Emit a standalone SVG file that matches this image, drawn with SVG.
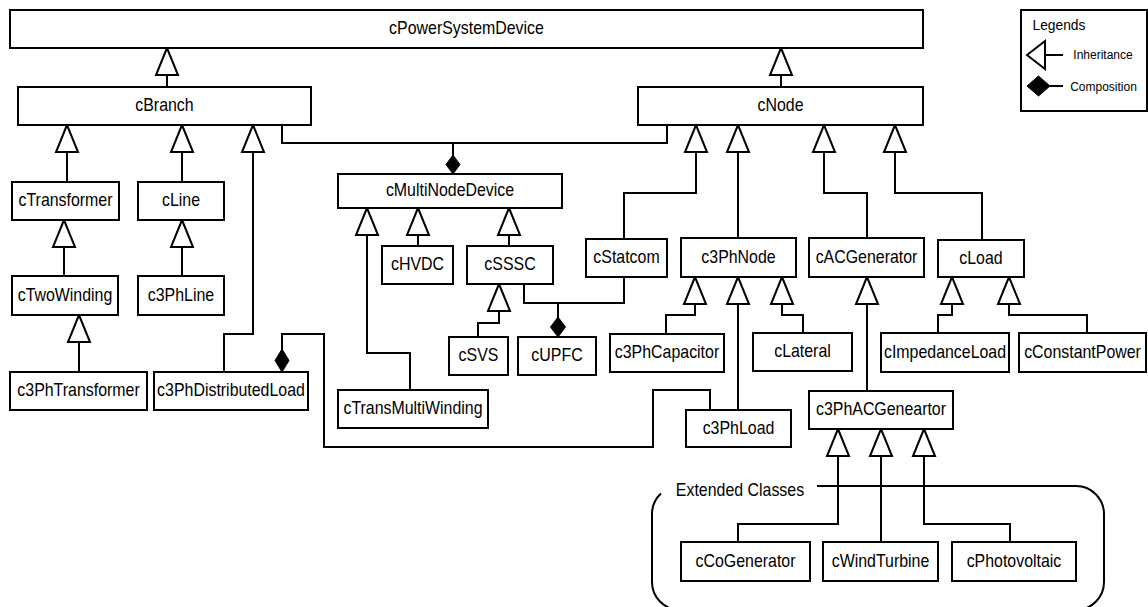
<svg xmlns="http://www.w3.org/2000/svg" xmlns:xlink="http://www.w3.org/1999/xlink" width="1148" height="607" viewBox="0 0 1148 607">
<style>
.box{fill:#fff;stroke:#000;stroke-width:2}
.t{font-family:"Liberation Sans",Arial,sans-serif;font-size:17.5px;fill:#000;text-anchor:middle;transform-box:fill-box;transform-origin:center;transform:scale(0.91,1)}
.ts{font-family:"Liberation Sans",Arial,sans-serif;font-size:13.5px;fill:#000;text-anchor:middle;transform-box:fill-box;transform-origin:center;transform:scale(0.89,1)}
.ln{fill:none;stroke:#000;stroke-width:2}
.tri{fill:#fff;stroke:#000;stroke-width:2;stroke-linejoin:miter}
.dia{fill:#000;stroke:#000;stroke-width:1}
</style>
<defs>
<polygon id="tri" class="tri" points="0,0 -11,27 11,27"/>
</defs>
<rect width="1148" height="607" fill="#fff"/>

<g id="connectors">
<path class="ln" d="M167 75V87"/><use xlink:href="#tri" x="167" y="48"/>
<path class="ln" d="M781 75V87"/><use xlink:href="#tri" x="781" y="48"/>
<path class="ln" d="M67 152V182"/><use xlink:href="#tri" x="67" y="125"/>
<path class="ln" d="M182 152V182"/><use xlink:href="#tri" x="182" y="125"/>
<path class="ln" d="M253 152V334H224V372"/><use xlink:href="#tri" x="253" y="125"/>
<path class="ln" d="M64 247V276"/><use xlink:href="#tri" x="64" y="220"/>
<path class="ln" d="M182 247V276"/><use xlink:href="#tri" x="182" y="220"/>
<path class="ln" d="M79 342V372"/><use xlink:href="#tri" x="79" y="315"/>
<path class="ln" d="M282 125V143H667V125M453 143V156"/>
<polygon class="dia" points="453,155 460,164.5 453,174 446,164.5"/>
<path class="ln" d="M367 235V353H410V390"/><use xlink:href="#tri" x="367" y="208"/>
<path class="ln" d="M418 235V246"/><use xlink:href="#tri" x="418" y="208"/>
<path class="ln" d="M509 235V246"/><use xlink:href="#tri" x="509" y="208"/>
<path class="ln" d="M499 311V323H478V337"/><use xlink:href="#tri" x="499" y="284"/>
<path class="ln" d="M524 284V303H624V277M558 303V318"/>
<polygon class="dia" points="558,317 565.5,327 558,337 550.5,327"/>
<path class="ln" d="M696 152V193H624V239"/><use xlink:href="#tri" x="696" y="125"/>
<path class="ln" d="M738 152V238"/><use xlink:href="#tri" x="738" y="125"/>
<path class="ln" d="M824 152V193H867V238"/><use xlink:href="#tri" x="824" y="125"/>
<path class="ln" d="M895 152V193H982V240"/><use xlink:href="#tri" x="895" y="125"/>
<path class="ln" d="M695 304V315H666V334"/><use xlink:href="#tri" x="695" y="277"/>
<path class="ln" d="M738 304V410"/><use xlink:href="#tri" x="738" y="277"/>
<path class="ln" d="M782 304V315H803V333"/><use xlink:href="#tri" x="782" y="277"/>
<path class="ln" d="M867 304V391"/><use xlink:href="#tri" x="867" y="277"/>
<path class="ln" d="M952 304V315H938V333"/><use xlink:href="#tri" x="952" y="277"/>
<path class="ln" d="M1009 304V315H1087V333"/><use xlink:href="#tri" x="1009" y="277"/>
<path class="ln" d="M282 350V334H324V447H653V390H710V410"/>
<polygon class="dia" points="282,349 289,360.5 282,372 275,360.5"/>
<path class="ln" d="M838 456V524H738V542"/><use xlink:href="#tri" x="838" y="429"/>
<path class="ln" d="M881 456V542"/><use xlink:href="#tri" x="881" y="429"/>
<path class="ln" d="M924 456V524H1010V542"/><use xlink:href="#tri" x="924" y="429"/>
</g>

<g id="extended">
<path class="ln" d="M817 486H1076A28 28 0 0 1 1104 514V582A28 28 0 0 1 1076 610H680A28 28 0 0 1 652 582V514A28 28 0 0 1 661 493.5"/>
<text class="t" x="740" y="496">Extended Classes</text>
</g>

<g id="n-cPowerSystemDevice"><rect class="box" x="10" y="10" width="913" height="38"/><text class="t" x="466.5" y="34.5">cPowerSystemDevice</text></g>
<g id="n-cBranch"><rect class="box" x="18" y="87" width="293" height="38"/><text class="t" x="164.5" y="111.5">cBranch</text></g>
<g id="n-cNode"><rect class="box" x="638" y="87" width="285" height="38"/><text class="t" x="780.5" y="111.5">cNode</text></g>
<g id="n-cTransformer"><rect class="box" x="12" y="182" width="107" height="38"/><text class="t" x="65.5" y="206.5">cTransformer</text></g>
<g id="n-cLine"><rect class="box" x="138" y="182" width="86" height="38"/><text class="t" x="181" y="206.5">cLine</text></g>
<g id="n-cTwoWinding"><rect class="box" x="12" y="276" width="106" height="39"/><text class="t" x="65" y="301">cTwoWinding</text></g>
<g id="n-c3PhLine"><rect class="box" x="138" y="276" width="86" height="39"/><text class="t" x="181" y="301">c3PhLine</text></g>
<g id="n-c3PhTransformer"><rect class="box" x="10" y="372" width="137" height="38"/><text class="t" x="78.5" y="396.5">c3PhTransformer</text></g>
<g id="n-c3PhDistributedLoad"><rect class="box" x="154" y="372" width="154" height="38"/><text class="t" x="231" y="396.5">c3PhDistributedLoad</text></g>
<g id="n-cMultiNodeDevice"><rect class="box" x="338" y="174" width="224" height="34"/><text class="t" x="450" y="196.5">cMultiNodeDevice</text></g>
<g id="n-cHVDC"><rect class="box" x="382" y="246" width="71" height="38"/><text class="t" x="417.5" y="270.5">cHVDC</text></g>
<g id="n-cSSSC"><rect class="box" x="467" y="246" width="86" height="38"/><text class="t" x="510" y="270.5">cSSSC</text></g>
<g id="n-cSVS"><rect class="box" x="449" y="337" width="59" height="38"/><text class="t" x="478.5" y="361.5">cSVS</text></g>
<g id="n-cUPFC"><rect class="box" x="518" y="337" width="78" height="38"/><text class="t" x="557" y="361.5">cUPFC</text></g>
<g id="n-cStatcom"><rect class="box" x="586" y="239" width="81" height="38"/><text class="t" x="626.5" y="263.5">cStatcom</text></g>
<g id="n-cTransMultiWinding"><rect class="box" x="338" y="390" width="150" height="38"/><text class="t" x="413" y="414.5">cTransMultiWinding</text></g>
<g id="n-c3PhNode"><rect class="box" x="681" y="238" width="115" height="39"/><text class="t" x="738.5" y="263">c3PhNode</text></g>
<g id="n-cACGenerator"><rect class="box" x="809" y="238" width="115" height="39"/><text class="t" x="866.5" y="263">cACGenerator</text></g>
<g id="n-cLoad"><rect class="box" x="938" y="240" width="86" height="37"/><text class="t" x="981" y="264">cLoad</text></g>
<g id="n-c3PhCapacitor"><rect class="box" x="610" y="334" width="114" height="38"/><text class="t" x="667" y="358.5">c3PhCapacitor</text></g>
<g id="n-cLateral"><rect class="box" x="753" y="333" width="99" height="38"/><text class="t" x="802.5" y="357.5">cLateral</text></g>
<g id="n-cImpedanceLoad"><rect class="box" x="881" y="333" width="128" height="39"/><text class="t" x="945" y="358">cImpedanceLoad</text></g>
<g id="n-cConstantPower"><rect class="box" x="1019" y="333" width="127" height="39"/><text class="t" x="1082.5" y="358">cConstantPower</text></g>
<g id="n-c3PhLoad"><rect class="box" x="686" y="410" width="105" height="37"/><text class="t" x="738.5" y="434">c3PhLoad</text></g>
<g id="n-c3PhACGeneartor"><rect class="box" x="809" y="391" width="144" height="38"/><text class="t" x="881" y="415.5">c3PhACGeneartor</text></g>
<g id="n-cCoGenerator"><rect class="box" x="681" y="542" width="129" height="39"/><text class="t" x="745.5" y="567">cCoGenerator</text></g>
<g id="n-cWindTurbine"><rect class="box" x="823" y="542" width="115" height="39"/><text class="t" x="880.5" y="567">cWindTurbine</text></g>
<g id="n-cPhotovoltaic"><rect class="box" x="952" y="542" width="124" height="39"/><text class="t" x="1014" y="567">cPhotovoltaic</text></g>

<g id="legend">
<rect class="box" x="1021" y="10" width="126" height="101"/>
<text class="ts" x="1059" y="30" style="font-size:15.5px">Legends</text>
<polygon class="tri" points="1027,55 1045,41 1045,69"/>
<path class="ln" d="M1045 55H1063"/>
<text class="ts" x="1103" y="59">Inheritance</text>
<polygon class="dia" points="1027,86 1038.5,76 1050,86 1038.5,96"/>
<path class="ln" d="M1050 86H1063"/>
<text class="ts" x="1103.5" y="91">Composition</text>
</g>
</svg>
